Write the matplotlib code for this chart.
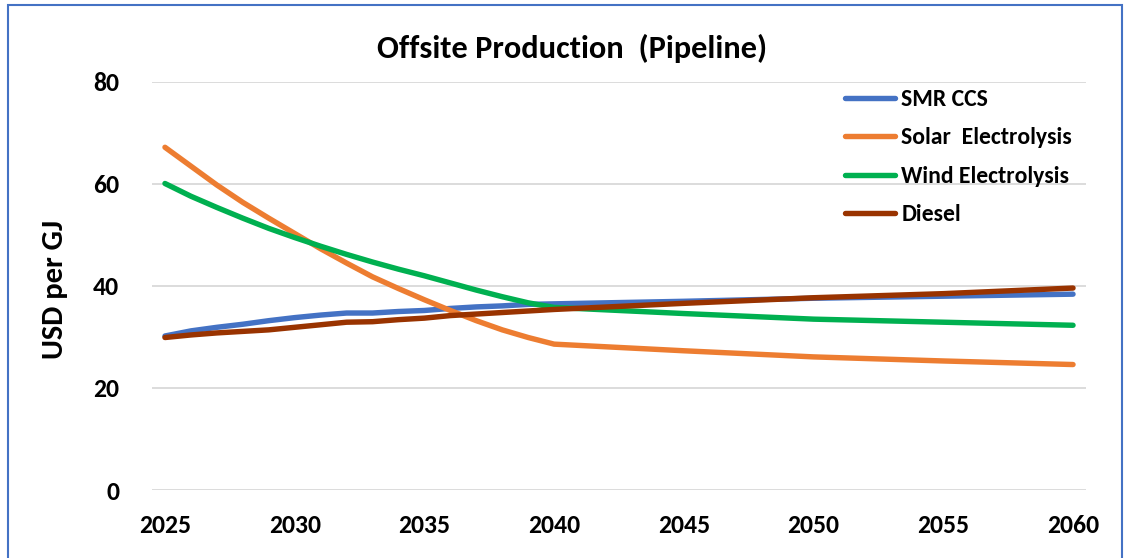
import matplotlib
matplotlib.use('Agg')
import matplotlib.pyplot as plt
from matplotlib.patches import Rectangle

# Cost of hydrogen delivered by pipeline, USD per GJ
years = [2025, 2026, 2027, 2028, 2029, 2030, 2031, 2032, 2033, 2034,
         2035, 2036, 2037, 2038, 2039, 2040, 2045, 2050, 2055, 2060]
smr_ccs = [30.2, 31.2, 31.9, 32.5, 33.2, 33.8, 34.3, 34.7, 34.7, 35.0,
           35.2, 35.6, 35.9, 36.1, 36.4, 36.5, 37.0, 37.6, 38.0, 38.4]
solar = [67.2, 63.5, 59.8, 56.4, 53.3, 50.3, 47.3, 44.5, 41.8, 39.5,
         37.3, 35.2, 33.2, 31.4, 29.9, 28.6, 27.3, 26.1, 25.3, 24.6]
wind = [60.1, 57.6, 55.4, 53.3, 51.3, 49.5, 47.8, 46.2, 44.7, 43.3,
        42.0, 40.6, 39.2, 37.9, 36.7, 35.8, 34.6, 33.5, 32.9, 32.3]
diesel = [29.9, 30.4, 30.8, 31.1, 31.4, 31.9, 32.4, 32.9, 33.0, 33.4,
          33.7, 34.2, 34.5, 34.8, 35.1, 35.4, 36.6, 37.7, 38.5, 39.6]

series = [('SMR CCS', smr_ccs, '#4472C4'),
          ('Solar  Electrolysis', solar, '#ED7D31'),
          ('Wind Electrolysis', wind, '#00B050'),
          ('Diesel', diesel, '#993300')]

x_ticks = list(range(2025, 2061, 5))
y_ticks = [0, 20, 40, 60, 80]

FONT = 'Carlito'
W, H = 1132, 558

fig = plt.figure(figsize=(W / 100, H / 100), dpi=100)
ax = fig.add_axes([152 / W, 1 - 490 / H, 934 / W, 408 / H])

for name, vals, color in series:
    ax.plot(years, vals, color=color, linewidth=3.9, label=name,
            solid_capstyle='round', solid_joinstyle='round')

ax.set_xlim(2024.5, 2060.5)
ax.set_ylim(0, 80)
ax.set_xticks(x_ticks)
ax.set_yticks(y_ticks)
ax.set_xticklabels([str(t) for t in x_ticks], family=FONT, fontweight='bold', fontsize=18.5)
ax.set_yticklabels([str(t) for t in y_ticks], family=FONT, fontweight='bold', fontsize=18.5)
ax.tick_params(axis='both', length=0)
ax.tick_params(axis='x', pad=17)
ax.tick_params(axis='y', pad=23.5)

ax.grid(axis='y', color='#D9D9D9', linewidth=1.3)
ax.set_axisbelow(True)
for sp in ax.spines.values():
    sp.set_visible(False)

fig.text(572 / W, 1 - 48 / H, 'Offsite Production  (Pipeline)', ha='center',
         va='center', family=FONT, fontsize=23.3, fontweight='bold')
fig.text(55 / W, 1 - 289 / H, 'USD per GJ', rotation=90, ha='center',
         va='center', family=FONT, fontsize=22, fontweight='bold')

ax.legend(loc='upper left', bbox_to_anchor=(845 / W, 1 - 89 / H),
          bbox_transform=fig.transFigure, frameon=False,
          handlelength=2.1, handletextpad=0.28, labelspacing=0.74,
          borderaxespad=0, borderpad=0,
          prop={'family': FONT, 'weight': 'bold', 'size': 17})

# Blue frame around the chart area
fig.patches.append(Rectangle((8 / W, -0.02), 1114 / W, 1.02 - 5 / H,
                             transform=fig.transFigure, fill=False,
                             edgecolor='#4472C4', linewidth=1.5))

fig.savefig('out.png', dpi=100)
